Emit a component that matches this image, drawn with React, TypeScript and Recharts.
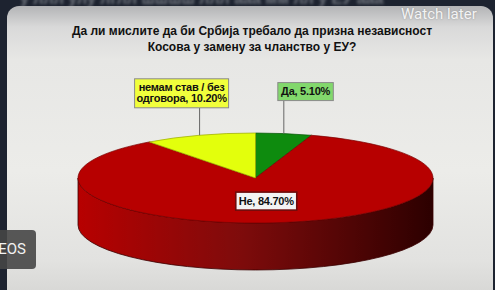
import React from 'react';
import { PieChart, Pie, Cell } from 'recharts';

// answer categories, clockwise from 12 o'clock
const categories = ['Да', 'Не', 'немам став / без одговора'];
const shares = [5.1, 84.7, 10.2];

const sliceColors = ['#0e8b0e', '#b70000', '#e3ff0c'];
const wallDark = ['#033a03', '#2c0000', '#6f7d00'];
const edgeColors = ['#075507', '#7a0000', '#9aa800'];
const boxFills = ['#82d86c', '#f3f3f3', '#f1ff3c'];
const boxStrokes = ['#8a8a8a', '#6e0c0c', '#8a8a8a'];

const titleLines = [
  'Да ли мислите да би Србија требало да призна независност',
  'Косова у замену за чланство у ЕУ?',
];

const data = categories.map((name, i) => ({ name, value: shares[i] }));

const TILT = 0.2535; // vertical squash of the top face
const DEPTH = 47; // height of the side wall
const RAD = Math.PI / 180;
const LABEL_FONT = '"Liberation Sans Narrow", "Arial Narrow", "Liberation Sans", Arial, sans-serif';

const ellipsePoint = (cx: number, cy: number, r: number, a: number, dy = 0) => [
  cx + r * Math.cos(a * RAD),
  cy - r * TILT * Math.sin(a * RAD) + dy,
];

const Slice3D = (props: any) => {
  const { cx, cy, outerRadius, startAngle, endAngle, index } = props;
  const rx = outerRadius;
  const ry = outerRadius * TILT;
  const hi = Math.max(startAngle, endAngle);
  const lo = Math.min(startAngle, endAngle);
  const p = (a: number, dy = 0) => ellipsePoint(cx, cy, rx, a, dy).join(',');
  const large = hi - lo > 180 ? 1 : 0;
  const top = `M${cx},${cy} L${p(hi)} A${rx},${ry} 0 ${large} 1 ${p(lo)} Z`;

  // front half of the rim (180..360 degrees) gets a wall
  const walls: string[] = [];
  [-360, 0, 360].forEach((k) => {
    const a0 = Math.max(lo, -180 + k);
    const a1 = Math.min(hi, k);
    if (a1 > a0) {
      walls.push(
        `M${p(a1)} A${rx},${ry} 0 0 1 ${p(a0)} L${p(a0, DEPTH)} A${rx},${ry} 0 0 0 ${p(a1, DEPTH)} Z`
      );
    }
  });
  const gid = `wall-${index}`;
  return (
    <g>
      <defs>
        <linearGradient id={gid} gradientUnits="userSpaceOnUse" x1={cx - rx} x2={cx + rx} y1={0} y2={0}>
          <stop offset="0" stopColor={sliceColors[index]} />
          <stop offset="0.45" stopColor={edgeColors[index]} stopOpacity={0.95} />
          <stop offset="1" stopColor={wallDark[index]} />
        </linearGradient>
      </defs>
      {walls.map((d, i) => (
        <path key={i} d={d} fill={`url(#${gid})`} stroke="#3a0000" strokeWidth={0.8} />
      ))}
      <path d={top} fill={sliceColors[index]} stroke={edgeColors[index]} strokeWidth={0.7} />
    </g>
  );
};

const wrap = (text: string, max: number) => {
  const lines: string[] = [];
  let cur = '';
  text.split(' ').forEach((w) => {
    const next = cur ? `${cur} ${w}` : w;
    if (next.length > max && cur) {
      lines.push(cur);
      cur = w;
    } else cur = next;
  });
  lines.push(cur);
  return lines;
};

const LabelText = ({ x, y, text }: { x: number; y: number; text: string }) => (
  <text x={x} y={y} textAnchor="middle" fontFamily={LABEL_FONT} fontWeight="bold" fontSize={11} letterSpacing={-0.25} fill="#111">
    {text}
  </text>
);

const renderLabel = (props: any) => {
  const { cx, cy, midAngle, outerRadius, index, name, value, percent } = props;
  const lines = wrap(`${name}, ${Number(value).toFixed(2)}%`, 17);
  const lineH = 11;
  const w = Math.max(...lines.map((l) => l.length)) * 5.5 + 6;
  const h = lines.length * lineH + 7;

  if (percent > 0.3) {
    // inside label
    const x = cx + outerRadius * 0.38 * Math.cos(midAngle * RAD);
    const y = cy - outerRadius * TILT * 0.52 * Math.sin(midAngle * RAD);
    return (
      <g key={`lab-${index}`}>
        <rect x={x - w / 2} y={y - h / 2} width={w} height={h} fill={boxFills[index]} stroke={boxStrokes[index]} strokeWidth={1.6} />
        {lines.map((l, i) => (
          <LabelText key={i} x={x} y={y - h / 2 + 12.5 + i * lineH} text={l} />
        ))}
      </g>
    );
  }

  const [ax, ay] = ellipsePoint(cx, cy, outerRadius, midAngle);
  const boxCy = ay - 42;
  const onLeft = Math.cos(midAngle * RAD) < 0;
  const left = onLeft ? ax + 29 - w : ax - 6;
  const boxTop = boxCy - h / 2;
  return (
    <g key={`lab-${index}`}>
      <line x1={ax} y1={ay} x2={ax} y2={boxTop + h} stroke="#666" strokeWidth={1} />
      <rect x={left} y={boxTop} width={w} height={h} fill={boxFills[index]} stroke={boxStrokes[index]} strokeWidth={1} />
      {lines.map((l, i) => (
        <LabelText key={i} x={left + w / 2} y={boxTop + 12.5 + i * lineH} text={l} />
      ))}
    </g>
  );
};

export default function App() {
  return (
    <div style={{ position: 'fixed', left: 0, top: 0, width: 495, height: 290, overflow: 'hidden', background: '#1d2330' }}>
      {/* blurred text of the video behind */}
      <div style={{ position: 'absolute', left: 20, top: -10, color: '#6d727b', fontFamily: 'Arial, sans-serif', fontSize: 16, fontWeight: 'bold', filter: 'blur(1.5px)', whiteSpace: 'nowrap' }}>
        у ллл улу лглл шшшш ллл ааа мм лл у ЕУ ааа
      </div>
      <div
        style={{
          position: 'absolute', left: 7, top: 6, width: 486, height: 300, borderRadius: 12,
          background: 'linear-gradient(180deg, #b3b4b6 0%, #d9d9d9 7%, #e7e7e5 18%, #ecece9 55%, #e2e2e0 85%, #d3d3d1 100%)',
        }}
      />
      <div style={{ position: 'absolute', left: 0, top: 23, width: 504, textAlign: 'center', fontFamily: '"Liberation Sans", Arial, sans-serif', fontWeight: 'bold', fontSize: 12, lineHeight: '16px', color: '#111' }}>
        {titleLines.map((t) => (
          <div key={t}>{t}</div>
        ))}
      </div>
      <div style={{ position: 'absolute', left: 401, top: 5, fontFamily: 'Roboto, sans-serif', fontSize: 15, color: 'rgba(255,255,255,0.88)', textShadow: '0 0 2px rgba(0,0,0,0.25)' }}>
        Watch later
      </div>
      <div style={{ position: 'absolute', left: 0, top: 0 }}>
        <PieChart width={495} height={290} margin={{ top: 0, right: 0, bottom: 0, left: 0 }}>
          <Pie
            data={data}
            dataKey="value"
            nameKey="name"
            cx={255.5}
            cy={178}
            outerRadius={177.5}
            startAngle={90}
            endAngle={-270}
            shape={Slice3D}
            inactiveShape={Slice3D}
            activeShape={Slice3D}
            label={renderLabel}
            labelLine={false}
            isAnimationActive={false}
          >
            {data.map((d, i) => (
              <Cell key={d.name} fill={sliceColors[i]} />
            ))}
          </Pie>
        </PieChart>
      </div>
      <div style={{ position: 'absolute', left: -6, top: 230, width: 42, height: 39, borderRadius: 4, background: 'rgba(70,70,70,0.9)' }} />
      <div style={{ position: 'absolute', left: -40, top: 240, width: 66, textAlign: 'right', fontFamily: 'Roboto, sans-serif', fontSize: 15, color: '#f2f2f2' }}>
        VIDEOS
      </div>
    </div>
  );
}
